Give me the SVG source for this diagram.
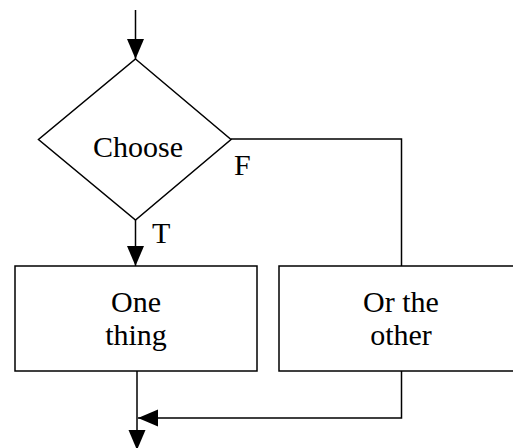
<svg xmlns="http://www.w3.org/2000/svg" width="513" height="448" viewBox="0 0 513 448">
  <style>
    .shape { fill: #ffffff; stroke: #000000; stroke-width: 1.5; }
    .line { fill: none; stroke: #000000; stroke-width: 1.5; }
    .label { font-family: "Liberation Serif", "Times New Roman", serif; font-size: 30px; fill: #000000; }
    .mid { text-anchor: middle; }
  </style>
  <defs>
    <marker id="arrow" viewBox="0 0 20 18" refX="20" refY="9" markerWidth="20" markerHeight="18" markerUnits="userSpaceOnUse" orient="auto">
      <path d="M0,0.5 L20,9 L0,17.5 Z" fill="#000000"/>
    </marker>
  </defs>

  <rect width="513" height="448" fill="#ffffff"/>

  <g id="connectors">
    <!-- entry into the decision -->
    <line class="line" x1="135.5" y1="10" x2="135.5" y2="59" marker-end="url(#arrow)"/>
    <!-- true branch -->
    <line class="line" x1="135.5" y1="220" x2="135.5" y2="266" marker-end="url(#arrow)"/>
    <!-- false branch -->
    <polyline class="line" points="231,139 401.5,139 401.5,266"/>
    <!-- exit of the left box -->
    <line class="line" x1="137" y1="371" x2="137" y2="450" marker-end="url(#arrow)"/>
    <!-- merge from the right box -->
    <polyline class="line" points="401.5,371 401.5,418 138,418" marker-end="url(#arrow)"/>
  </g>

  <g id="choose">
    <polygon class="shape" points="135.5,59 231,139.5 135.5,220 38.5,139.5"/>
    <text class="label mid" x="138" y="157">Choose</text>
  </g>

  <g id="branch-labels">
    <text class="label" x="234" y="175">F</text>
    <text class="label" x="152" y="243">T</text>
  </g>

  <g id="one-thing">
    <rect class="shape" x="15" y="266" width="242" height="105"/>
    <text class="label mid" x="136" y="312">One</text>
    <text class="label mid" x="136" y="345">thing</text>
  </g>

  <g id="or-the-other">
    <rect class="shape" x="279" y="266" width="250" height="105"/>
    <text class="label mid" x="401" y="312">Or the</text>
    <text class="label mid" x="401" y="345">other</text>
  </g>
</svg>
